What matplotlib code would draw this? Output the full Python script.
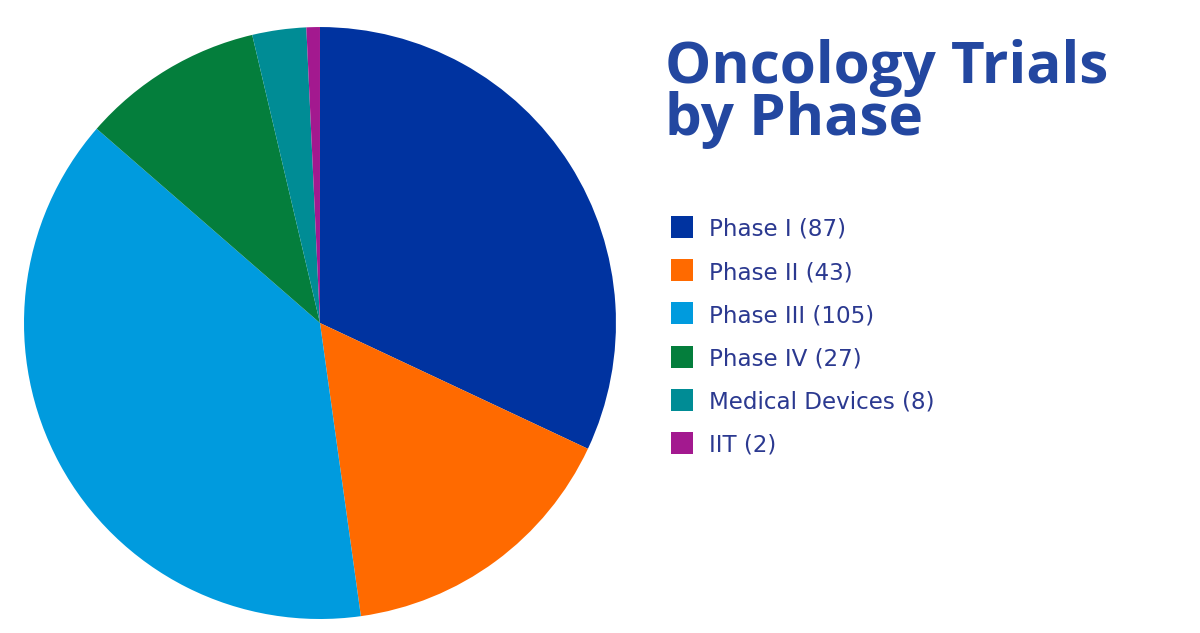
import matplotlib
matplotlib.use("Agg")
import matplotlib.pyplot as plt
from matplotlib.patches import Rectangle

categories = ["Phase I", "Phase II", "Phase III", "Phase IV", "Medical Devices", "IIT"]
values = [87, 43, 105, 27, 8, 2]
colors = ["#0033A0", "#FF6A00", "#009BDE", "#047E3C", "#008C95", "#A3198F"]
title = "Oncology Trials\nby Phase"

fig = plt.figure(figsize=(12, 6.33), dpi=100)
fig.patch.set_facecolor("white")

ax = fig.add_axes([0.02, 0.0221, 0.4933, 0.9352])
ax.pie(values, colors=colors, startangle=90, counterclock=False,
       wedgeprops=dict(linewidth=0))
ax.set_xlim(-1, 1)
ax.set_ylim(-1, 1)
ax.set_aspect("equal")
ax.axis("off")

fig.text(665 / 1200, 1 - 39 / 633, title, ha="left", va="top",
         fontsize=42, fontweight="bold", family=["Open Sans", "DejaVu Sans"],
         color="#2347A0", linespacing=0.86)

row_y0 = 227
row_dy = 43.2
for i, (cat, val, col) in enumerate(zip(categories, values, colors)):
    yc = row_y0 + i * row_dy
    fig.patches.append(Rectangle((671 / 1200, 1 - (yc + 11) / 633), 22 / 1200, 22 / 633,
                                 transform=fig.transFigure, facecolor=col,
                                 edgecolor="none"))
    fig.text(709 / 1200, 1 - yc / 633, f"{cat} ({val})", ha="left", va="center_baseline",
             fontsize=16.6, family=["DejaVu Sans"], color="#2B3990")

fig.savefig("out.png", dpi=100, facecolor="white")
